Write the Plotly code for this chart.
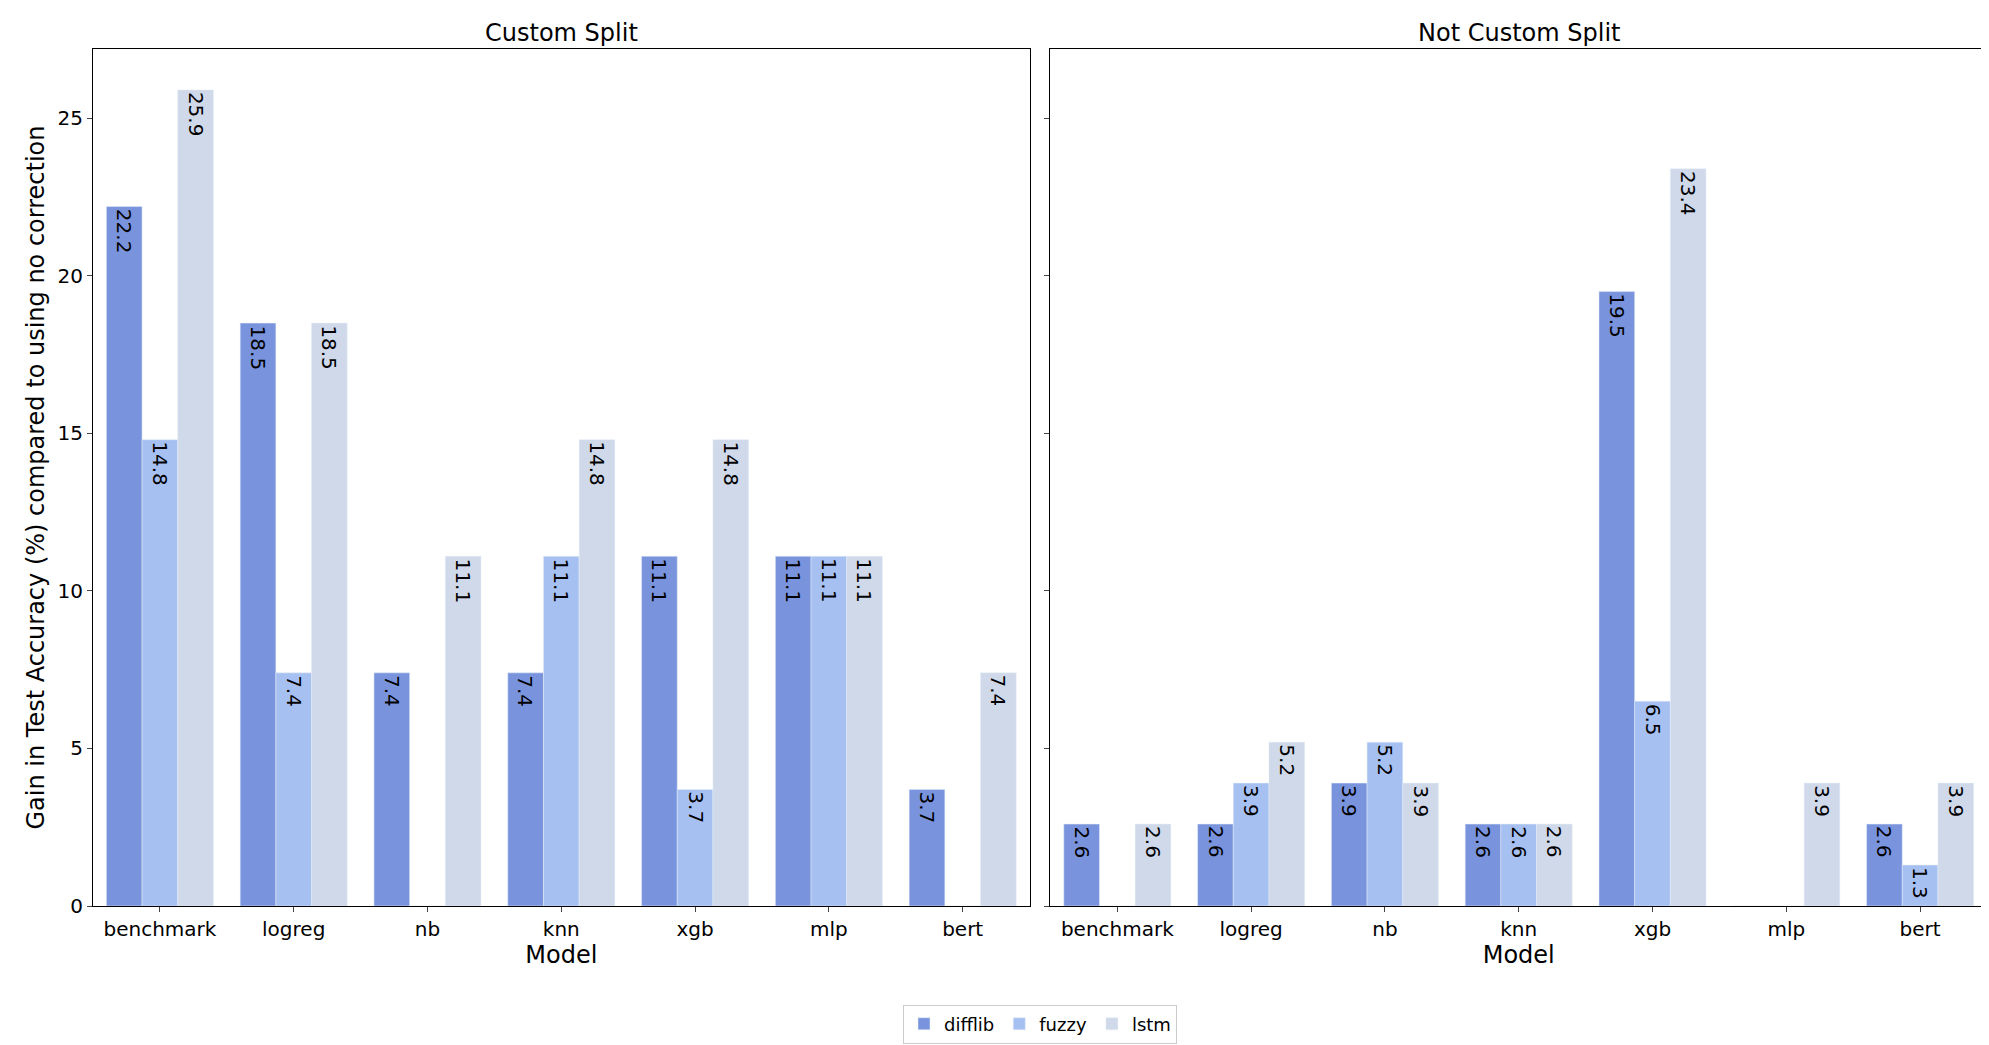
import plotly.graph_objects as go
from plotly.subplots import make_subplots

models = ['benchmark', 'logreg', 'nb', 'knn', 'xgb', 'mlp', 'bert']
methods = ['difflib', 'fuzzy', 'lstm']
colors = ['#7994dd', '#a7c0f2', '#cfd9ea']

custom_difflib = [22.2, 18.5, 7.4, 7.4, 11.1, 11.1, 3.7]
custom_fuzzy = [14.8, 7.4, 0, 11.1, 3.7, 11.1, 0]
custom_lstm = [25.9, 18.5, 11.1, 14.8, 14.8, 11.1, 7.4]

notcustom_difflib = [2.6, 2.6, 3.9, 2.6, 19.5, 0, 2.6]
notcustom_fuzzy = [0, 3.9, 5.2, 2.6, 6.5, 0, 1.3]
notcustom_lstm = [2.6, 5.2, 3.9, 2.6, 23.4, 3.9, 3.9]

panels = [
    [custom_difflib, custom_fuzzy, custom_lstm],
    [notcustom_difflib, notcustom_fuzzy, notcustom_lstm],
]

fig = make_subplots(rows=1, cols=2, shared_yaxes=True, horizontal_spacing=0.011,
                    subplot_titles=['Custom Split', 'Not Custom Split'])

width = 0.8 / 3
xs = list(range(len(models)))
for col, series in enumerate(panels, start=1):
    for k, (name, vals) in enumerate(zip(methods, series)):
        off = -0.4 + k * width
        fig.add_trace(go.Bar(x=xs, y=vals, name=name, width=width, offset=off,
                             marker_color=colors[k], showlegend=(col == 1)),
                      row=1, col=col)
        xref = 'x' if col == 1 else 'x2'
        for i, v in enumerate(vals):
            if v > 0:
                fig.add_annotation(x=i + off + width / 2, y=v, xref=xref, yref='y',
                                   text=f'{v:.1f}', textangle=90, showarrow=False,
                                   xanchor='center', yanchor='top',
                                   font=dict(size=20, color='black'))

axis_common = dict(range=[-0.5, 6.5], tickmode='array', tickvals=xs, ticktext=models,
                   showline=True, mirror=True, linecolor='black', ticks='outside',
                   tickfont=dict(size=20), showgrid=False,
                   title=dict(text='Model', font=dict(size=24), standoff=4))
fig.update_xaxes(**axis_common)
fig.update_yaxes(range=[0, 27.2], showline=True, mirror=True, linecolor='black',
                 ticks='outside', tickfont=dict(size=20), showgrid=False,
                 tickvals=[0, 5, 10, 15, 20, 25])
fig.update_yaxes(title=dict(text='Gain in Test Accuracy (%) compared to using no correction',
                            font=dict(size=24), standoff=6), row=1, col=1)
fig.update_yaxes(showticklabels=False, row=1, col=2)

for a in fig.layout.annotations:
    if a.text in ('Custom Split', 'Not Custom Split'):
        a.font = dict(size=24, color='black')

fig.update_layout(
    width=1989, height=1045, plot_bgcolor='white', paper_bgcolor='white',
    font=dict(family='DejaVu Sans', color='black'),
    margin=dict(l=85, r=10, t=41, b=132),
    bargap=0.2,
    legend=dict(orientation='h', x=0.5, xanchor='center', y=-0.115, yanchor='top',
                font=dict(size=18), bordercolor='#cccccc', borderwidth=1),
)

fig.write_html("out.html")
